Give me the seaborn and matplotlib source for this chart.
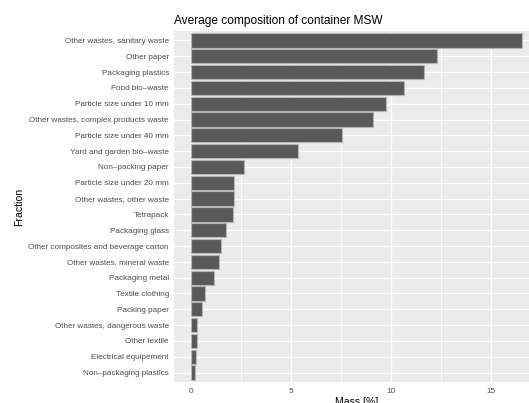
import numpy as np
import pandas as pd
import matplotlib
matplotlib.use('Agg')
import matplotlib.pyplot as plt
import seaborn as sns

fractions = ['Other wastes, sanitary waste', 'Other paper', 'Packaging plastics', 'Food bio\u2013waste',
             'Particle size under 10 mm', 'Other wastes, complex products waste', 'Particle size under 40 mm',
             'Yard and garden bio\u2013waste', 'Non\u2013packing paper', 'Particle size under 20 mm',
             'Other wastes, other waste', 'Tetrapack', 'Packaging glass', 'Other composites and beverage carton',
             'Other wastes, mineral waste', 'Packaging metal', 'Textile clothing', 'Packing paper',
             'Other wastes, dangerous waste', 'Other textile', 'Electrical equipement', 'Non\u2013packaging plastics']
mass = [16.55, 12.28, 11.67, 10.63, 9.77, 9.1, 7.53, 5.33, 2.65, 2.13, 2.15, 2.08, 1.75, 1.52,
        1.4, 1.15, 0.72, 0.53, 0.3, 0.28, 0.24, 0.2]

df = pd.DataFrame({'Fraction': fractions, 'Mass': mass})

sns.set_style('darkgrid', {'axes.facecolor': '#EBEBEB', 'grid.color': 'white'})
plt.rcParams['font.family'] = ['Liberation Sans', 'DejaVu Sans']

fig = plt.figure(figsize=(5.29, 4.03), dpi=100)
W, H = 529, 403
left, right, top, bottom = 174.4, 538.6, 31, 382
ax = fig.add_axes([left / W, 1 - bottom / H, (right - left) / W, (bottom - top) / H])

sns.barplot(data=df, x='Mass', y='Fraction', order=fractions, color='#595959', saturation=1,
            width=0.9, edgecolor='#b5b5b5', linewidth=0.8, ax=ax, zorder=3)

xmax = max(mass)
pad = xmax * 0.05
ax.set_xlim(-pad, xmax + pad)
ax.set_ylim(len(fractions) - 1 + 0.6, -0.6)
ax.set_xticks([0, 5, 10, 15])
ax.set_xticks([2.5, 7.5, 12.5], minor=True)
ax.grid(True, which='major', color='white', linewidth=1.0, zorder=0)
ax.grid(True, which='minor', axis='x', color='white', linewidth=0.5, zorder=0)
ax.set_axisbelow(True)
for s in ax.spines.values():
    s.set_visible(False)

ax.tick_params(axis='both', which='major', length=2.5, width=0.8, color='#333333',
               labelsize=5.9, labelcolor='#4D4D4D', pad=1.5)
ax.tick_params(axis='both', which='minor', length=0)
ax.set_xlabel('Mass [%]', fontsize=7.6, color='black', labelpad=2)
ax.set_ylabel('Fraction', fontsize=7.6, color='black', labelpad=3)
ax.set_title('Average composition of container MSW', fontsize=8.6, loc='left', pad=5, color='black')

fig.savefig('out.png', dpi=100)
